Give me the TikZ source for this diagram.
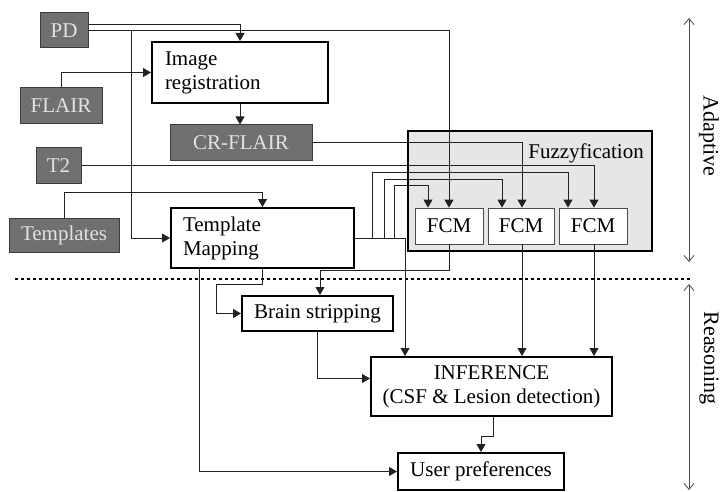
\documentclass[tikz,border=0pt]{standalone}
\usepackage{fontspec}
\setmainfont{Liberation Serif}
\usetikzlibrary{arrows.meta}
\definecolor{darkfill}{HTML}{707070}
\definecolor{darkline}{HTML}{3C3C3C}
\definecolor{darktext}{HTML}{E2E2E2}
\definecolor{fuzzfill}{HTML}{E6E6E6}
\definecolor{conncol}{HTML}{222222}
\begin{document}
\begin{tikzpicture}[x=1pt,y=-1pt,
  every node/.style={font=\fontsize{21}{24}\selectfont, inner sep=0pt},
  darkbox/.style={draw=darkline, line width=1pt, fill=darkfill, text=darktext},
  whitebox/.style={draw=black, line width=2pt, fill=white},
  fcmbox/.style={draw=black!70, line width=0.8pt, fill=white},
  conn/.style={draw=conncol, line width=0.9pt},
  arr/.style={conn, -{Triangle[length=8pt,width=9pt]}},
  sidearr/.style={draw=black!70, line width=0.8pt, {Straight Barb[length=6pt,width=10pt]}-{Straight Barb[length=6pt,width=10pt]}},
  sidelabel/.style={rotate=-90, font=\fontsize{22}{24}\selectfont}
]
\useasboundingbox (0,0) rectangle (720,492);

% dark input boxes
\node[darkbox, minimum width=48pt, minimum height=35pt] (PD) at (64,30.5) {PD};
\node[darkbox, minimum width=82pt, minimum height=36pt] (FLAIR) at (61,106) {FLAIR};
\node[darkbox, minimum width=45pt, minimum height=35pt] (T2) at (58.5,165.5) {T2};
\node[darkbox, minimum width=110pt, minimum height=34pt] (Templates) at (64,235) {Templates};
\node[darkbox, minimum width=142pt, minimum height=35pt] (CRFLAIR) at (241,142.5) {CR-FLAIR};

% processing boxes
\node[whitebox, minimum height=61pt, text width=150pt, inner xsep=13pt, align=left] (ImgReg) at (240,72.5) {Image\\registration};
\node[whitebox, minimum height=60pt, text width=159pt, inner xsep=12pt, align=left] (TM) at (262.5,238) {Template\\Mapping};

% fuzzyfication group
\node[draw=black, line width=2pt, fill=fuzzfill, minimum width=244pt, minimum height=120pt] (Fuzz) at (530,191) {};
\node[anchor=east] (FuzzLbl) at (644,153) {Fuzzyfication};
\node[fcmbox, minimum width=68pt, minimum height=36pt] (FCM1) at (449,226) {FCM};
\node[fcmbox, minimum width=66pt, minimum height=36pt] (FCM2) at (521,226) {FCM};
\node[fcmbox, minimum width=68pt, minimum height=36pt] (FCM3) at (593,226) {FCM};

% reasoning boxes
\node[whitebox, minimum width=151pt, minimum height=35pt] (BS) at (317.5,313.5) {Brain stripping};
\node[whitebox, minimum width=241pt, minimum height=59pt, align=center] (INF) at (491.5,386.5) {INFERENCE\\(CSF \& Lesion detection)};
\node[whitebox, minimum width=166pt, minimum height=37pt] (UP) at (481,471.5) {User preferences};

% divider
\coordinate (dl) at (15,279);
\coordinate (dr) at (690,279);
\draw[line width=2.5pt, dash pattern=on 3pt off 3pt] (dl) -- (dr);

% side arrows and labels
\coordinate (a1) at (689,18);
\coordinate (a2) at (689,262);
\coordinate (r1) at (689,284);
\coordinate (r2) at (689,490);
\draw[sidearr] (a1) -- (a2);
\draw[sidearr] (r1) -- (r2);
\node[sidelabel] (Adapt) at (709,136) {Adaptive};
\node[sidelabel] (Reason) at (709,358) {Reasoning};

% connectors
\draw[arr] ([yshift=6.5pt]PD.east) -| (ImgReg.north);
\draw[arr] (PD.east) -| (FCM1.north);
\draw[arr] ([xshift=43pt]PD.east) |- (TM.west);
\draw[arr] (FLAIR.north) |- (ImgReg.west);
\draw[arr] (ImgReg.south) -- (ImgReg.south |- CRFLAIR.north);
\draw[arr] (CRFLAIR.east) -| ([xshift=1pt]FCM2.north);
\draw[arr] (T2.east) -| ([xshift=1pt]FCM3.north);
\draw[arr] (Templates.north) -- ++(0,-25) -| (TM.north);
\draw[arr] (TM.east) -| ([xshift=-86.5pt]INF.north);
\draw[arr] ([xshift=17pt]TM.east) -- ++(0,-66) -| ([xshift=-25pt]FCM3.north);
\draw[arr] ([xshift=29pt]TM.east) -- ++(0,-59) -| ([xshift=-19pt]FCM2.north);
\draw[arr] ([xshift=39pt]TM.east) -- ++(0,-53) -| ([xshift=-21pt]FCM1.north);
\draw[arr] (FCM1.south) -- ++(0,26) -| ([xshift=2.5pt]BS.north);
\draw[arr] (TM.south) -- ++(0,15) -| ([xshift=-25pt]BS.west) -- (BS.west);
\draw[arr] ([xshift=-63.5pt]TM.south) |- (UP.west);
\draw[arr] (BS.south) |- ([yshift=8pt]INF.west);
\draw[arr] ([xshift=1pt]FCM2.south) -- ([xshift=1pt]FCM2.south |- INF.north);
\draw[arr] ([xshift=1pt]FCM3.south) -- ([xshift=1pt]FCM3.south |- INF.north);
\draw[arr] ([xshift=1.5pt]INF.south) -- ++(0,19) -| (UP.north);
\end{tikzpicture}
\end{document}
